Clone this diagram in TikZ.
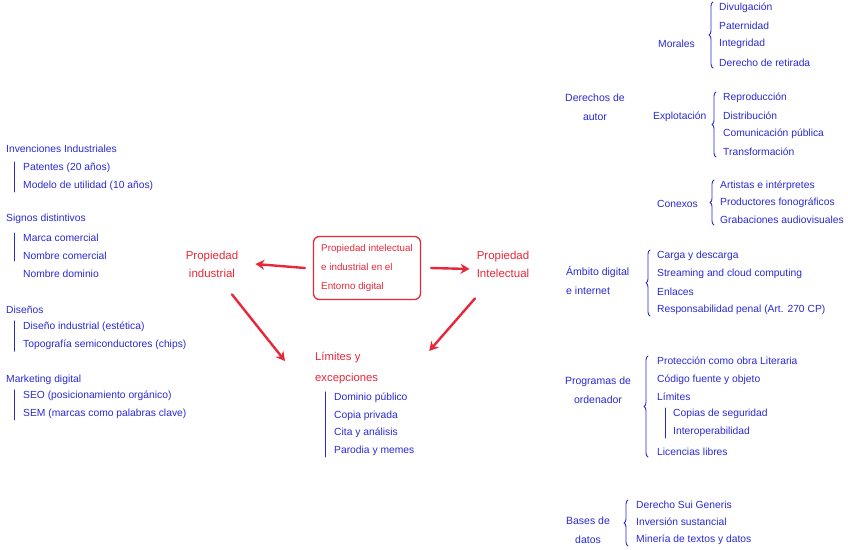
\documentclass[tikz,border=0pt]{standalone}
\usepackage{fontspec}
\setmainfont{Liberation Sans}
\usetikzlibrary{arrows.meta,decorations.pathreplacing}
\definecolor{mapInk}{HTML}{2A2AD2}
\definecolor{mapRed}{HTML}{E8283A}
\begin{document}
\begin{tikzpicture}[x=1pt,y=-1pt,>=Latex,line cap=round,line join=round]
\path[fill=white] (0,0) rectangle (848,549);
\tikzset{item/.style={anchor=west,text=mapInk,font=\fontsize{10.3}{18}\selectfont,inner sep=1pt},head/.style={text=mapInk,font=\fontsize{10.5}{19}\selectfont,align=center,inner sep=1pt},hot/.style={text=mapRed,font=\fontsize{11.5}{18}\selectfont,inner sep=1pt},tick/.style={draw=mapInk,line width=0.9pt},curly/.style={draw=mapInk,line width=0.9pt,decorate,decoration={brace,amplitude=4pt}},arr/.style={draw=mapRed,line width=2.4pt,-{Stealth[length=9pt,width=10pt]}}}
% left column: propiedad industrial
\node[item] (inv) at (5,149) {Invenciones Industriales};
\node[item] (pat) at (22,168) {Patentes (20 años)}; \node[item] (mod) at (22,186) {Modelo de utilidad (10 años)};
\draw[tick] ([xshift=-8pt]pat.north west) -- ([xshift=-8pt]mod.south west);
\node[item] (sig) at (5,219) {Signos distintivos};
\node[item] (mar) at (22,238) {Marca comercial}; \node[item] (nomc) at (22,256) {Nombre comercial}; \node[item] (ndom) at (22,274) {Nombre dominio};
\draw[tick] ([xshift=-8pt]mar.north west) -- ([xshift=-8pt]nomc.south west);
\node[item] (dis) at (5,310) {Diseños};
\node[item] (dind) at (22,327) {Diseño industrial (estética)}; \node[item] (topo) at (22,345) {Topografía semiconductores (chips)};
\draw[tick] ([xshift=-8pt]dind.north west) -- ([xshift=-8pt]topo.south west);
\node[item] (mkt) at (5,380) {Marketing digital};
\node[item] (seo) at (22,396) {SEO (posicionamiento orgánico)}; \node[item] (sem) at (22,414) {SEM (marcas como palabras clave)};
\draw[tick] ([xshift=-8pt]seo.north west) -- ([xshift=-8pt]sem.south west);
% centre
\node[hot,draw=mapRed,line width=1.3pt,rounded corners=6pt,minimum width=107pt,minimum height=63pt,align=left,font=\fontsize{9.8}{19}\selectfont] (ctr) at (367,268) {Propiedad intelectual\\e industrial en el\\Entorno digital};
\node[hot,align=center] (pind) at (212,264) {Propiedad\\industrial};
\node[hot,align=left] (pint) at (503,264) {Propiedad\\Intelectual};
\node[hot,anchor=west,align=left,font=\fontsize{11.3}{21}\selectfont] (lim) at (314,368) {Límites y\\excepciones};
\draw[arr] ([xshift=-8pt]ctr.west) -- ([xshift=16pt]pind.east);
\draw[arr] ([xshift=10pt]ctr.east) -- ([xshift=-6pt,yshift=-5pt]pint.west);
\draw[arr] ([xshift=20pt,yshift=-16pt]pind.south) -- ([xshift=-29pt,yshift=-10pt]lim.north west);
\draw[arr] ([xshift=-28pt,yshift=-20pt]pint.south) -- ([xshift=50pt]lim.north east);
\node[item] (dpub) at (333,398) {Dominio público}; \node[item] (cpri) at (333,416) {Copia privada};
\node[item] (cita) at (333,433) {Cita y análisis}; \node[item] (paro) at (333,451) {Parodia y memes};
\draw[tick] ([xshift=-8pt]dpub.north west) -- ([xshift=-8pt]paro.south west);
% right column: propiedad intelectual
\node[head] (dau) at (595,107) {Derechos de\\autor};
\node[item] (mor) at (657,44) {Morales};
\node[item] (divu) at (718,8) {Divulgación}; \node[item] (pate) at (718,26) {Paternidad};
\node[item] (integ) at (718,44) {Integridad}; \node[item] (retir) at (718,63) {Derecho de retirada};
\draw[curly] ([xshift=-5pt]retir.south west) -- ([xshift=-5pt]divu.north west);
\node[item] (expl) at (652,117) {Explotación};
\node[item] (repr) at (722,98) {Reproducción}; \node[item] (distr) at (722,116) {Distribución};
\node[item] (comu) at (722,134) {Comunicación pública}; \node[item] (trans) at (722,152) {Transformación};
\draw[curly] ([xshift=-6pt]trans.south west) -- ([xshift=-6pt]repr.north west);
\node[item] (conx) at (656,204) {Conexos};
\node[item] (arti) at (719,186) {Artistas e intérpretes}; \node[item] (prod) at (719,203) {Productores fonográficos};
\node[item] (grab) at (719,220) {Grabaciones audiovisuales};
\draw[curly] ([xshift=-5pt]grab.south west) -- ([xshift=-5pt]arti.north west);
\node[head,anchor=west,align=left] (amb) at (565,280) {Ámbito digital\\e internet};
\node[item] (carg) at (656,256) {Carga y descarga}; \node[item] (strm) at (656,274) {Streaming and cloud computing};
\node[item] (enl) at (656,292) {Enlaces}; \node[item] (resp) at (656,310) {Responsabilidad penal (Art. 270 CP)};
\draw[curly] ([xshift=-6pt]resp.south west) -- ([xshift=-6pt]carg.north west);
\node[head] (prog) at (598,390) {Programas de\\ordenador};
\node[item] (prot) at (656,361) {Protección como obra Literaria}; \node[item] (codi) at (656,380) {Código fuente y objeto};
\node[item] (limp) at (656,397) {Límites};
\node[item] (copi) at (672,414) {Copias de seguridad}; \node[item] (inter) at (672,432) {Interoperabilidad};
\draw[tick] ([xshift=-7pt]copi.north west) -- ([xshift=-7pt]inter.south west);
\node[item] (lic) at (656,452) {Licencias libres};
\draw[curly] ([xshift=-8pt]lic.south west) -- ([xshift=-8pt]prot.north west);
\node[head] (bdat) at (588,530) {Bases de\\datos};
\node[item] (sui) at (635,505) {Derecho Sui Generis}; \node[item] (invs) at (635,522) {Inversión sustancial};
\node[item] (mine) at (635,540) {Minería de textos y datos};
\draw[curly] ([xshift=-7pt]mine.south west) -- ([xshift=-7pt]sui.north west);
\end{tikzpicture}
\end{document}
